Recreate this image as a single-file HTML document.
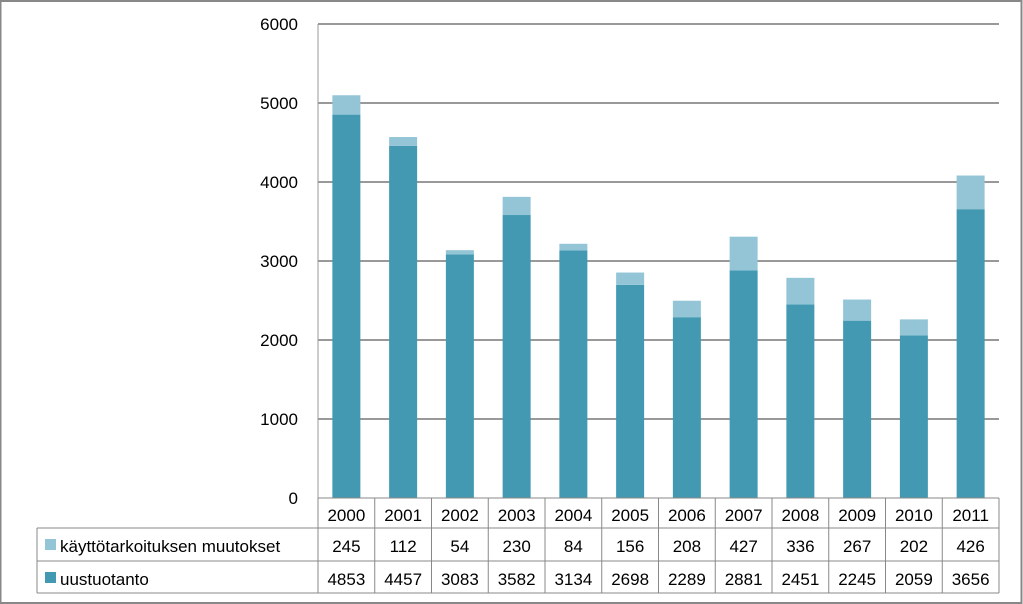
<!DOCTYPE html>
<html><head><meta charset="utf-8"><style>
body{margin:0;background:#fff}
svg{display:block;font-family:"Liberation Sans",sans-serif}
</style></head><body>
<svg width="1023" height="604">
<rect x="0.5" y="1" width="1021" height="602" fill="#fff" stroke="#888" stroke-width="2"/>
<g id="grid"></g><g id="bars"></g><g id="table"></g>
</svg>
<script>
const years=["2000","2001","2002","2003","2004","2005","2006","2007","2008","2009","2010","2011"];
const muutokset=[245,112,54,230,84,156,208,427,336,267,202,426];
const uustuotanto=[4853,4457,3083,3582,3134,2698,2289,2881,2451,2245,2059,3656];
const yTicks=[0,1000,2000,3000,4000,5000,6000];
const NS="http://www.w3.org/2000/svg";
const x0=318,x1=999,y0=498,yTop=24,ymax=6000;
const cw=(x1-x0)/years.length;
const y=v=>y0-(v/ymax)*(y0-yTop);
function mk(tag,attrs,parent,text){const e=document.createElementNS(NS,tag);for(const k in attrs)e.setAttribute(k,attrs[k]);if(text!==undefined)e.textContent=text;parent.appendChild(e);return e;}
const grid=document.getElementById('grid'),bars=document.getElementById('bars'),tb=document.getElementById('table');
yTicks.forEach(t=>{
 if(t>0){const l=mk('line',{x1:x0,x2:x1,y1:y(t),y2:y(t),stroke:'#999','stroke-width':2},grid);
 
 }
 const tx=mk('text',{x:298,y:y(t)+6,'text-anchor':'end','font-size':17,fill:'#000'},grid,String(t));
 
 
});
const ax=mk('line',{x1:x0,x2:x0,y1:yTop,y2:y0,stroke:'#999','stroke-width':1},grid);


years.forEach((yr,i)=>{
 const cx=x0+cw*(i+0.5),bw=28;
 const b1=mk('rect',{x:cx-bw/2,y:y(uustuotanto[i]),width:bw,height:y0-y(uustuotanto[i]),fill:'#4299b1'},bars);
 
 
 const b2=mk('rect',{x:cx-bw/2,y:y(uustuotanto[i]+muutokses(i)),width:bw,height:y(uustuotanto[i])-y(uustuotanto[i]+muutokses(i)),fill:'#93c5d7'},bars);
 
 
});
function muutokses(i){return muutokset[i];}
// table
const rows=[498,528,561,593];
const tl=37;
const lines=[[x0,rows[0],x1,rows[0]],[tl,rows[1],x1,rows[1]],[tl,rows[2],x1,rows[2]],[tl,rows[3],x1,rows[3]],[tl,rows[1],tl,rows[3]],[x0,rows[0],x0,rows[3]]];
years.forEach((yr,i)=>lines.push([x0+cw*(i+1),rows[0],x0+cw*(i+1),rows[3]]));
lines.forEach(a=>{const l=mk('line',{x1:a[0],y1:a[1],x2:a[2],y2:a[3],stroke:'#888','stroke-width':1},tb);
 
 });
years.forEach((yr,i)=>{
 const cx=x0+cw*(i+0.5);
 const t1=mk('text',{x:cx,y:521,'text-anchor':'middle','font-size':17},tb,yr);
 
 
 const t2=mk('text',{x:cx,y:552,'text-anchor':'middle','font-size':17},tb,String(muutokset[i]));
 
 
 const t3=mk('text',{x:cx,y:585,'text-anchor':'middle','font-size':17},tb,String(uustuotanto[i]));
 
 
});
const k1=mk('rect',{x:45,y:539,width:11,height:11,fill:'#93c5d7'},tb);


const l1=mk('text',{x:60,y:552,'font-size':17},tb,'käyttötarkoituksen muutokset');


const k2=mk('rect',{x:45,y:572,width:11,height:11,fill:'#4299b1'},tb);


const l2=mk('text',{x:60,y:585,'font-size':17},tb,'uustuotanto');


</script>
</body></html>
